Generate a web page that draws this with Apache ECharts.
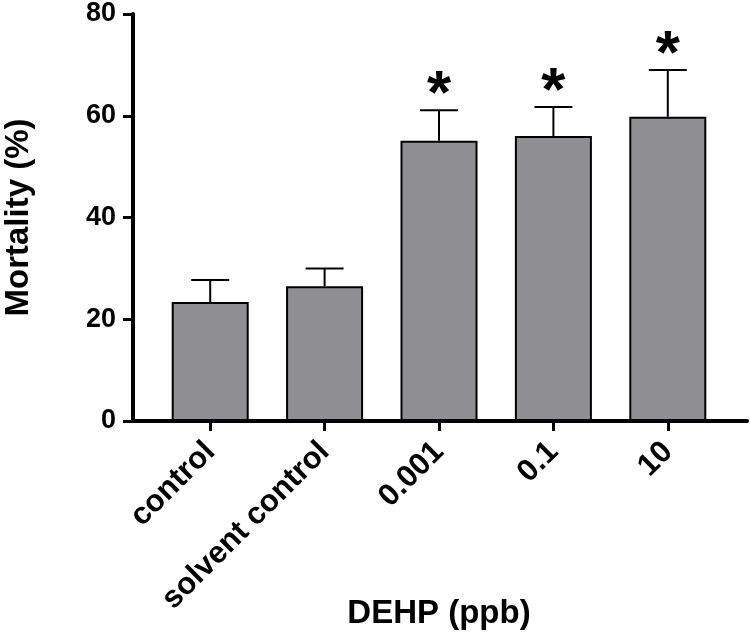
<!DOCTYPE html>
<html>
<head>
<meta charset="utf-8">
<script src="https://cdn.jsdelivr.net/npm/echarts@6/dist/echarts.min.js"></script>
<style>
  html, body { margin: 0; padding: 0; background: #fff; }
  #chart { width: 750px; height: 636px; }
</style>
</head>
<body>
<div id="chart"></div>
<script>
// groups on the x axis
const categories = ['control', 'solvent control', '0.001', '0.1', '10'];
// mean mortality (%) and top of error bar
const mortality = [23.4, 26.5, 55.1, 56.0, 59.8];
const errorTop = [27.7, 30.0, 61.1, 61.7, 69.0];
// significance marks
const stars = ['', '', '*', '*', '*'];
const yTicks = [0, 20, 40, 60, 80];

const font = '"Liberation Sans", Arial, sans-serif';
const chart = echarts.init(document.getElementById('chart'));

const errorData = categories.map((c, i) => [i, mortality[i], errorTop[i], stars[i]]);

chart.setOption({
  backgroundColor: '#fff',
  animation: false,
  grid: [
    { left: 153, right: 25, top: 14, bottom: 215, outerBoundsMode: 'none', containLabel: false },
    { left: 133, right: 3, top: 14, bottom: 215, outerBoundsMode: 'none', containLabel: false }
  ],
  xAxis: [
    {
      type: 'category',
      gridIndex: 0,
      data: categories,
      axisLine: { show: false },
      axisTick: { show: true, alignWithLabel: true, length: 10, lineStyle: { color: '#000', width: 3 } },
      axisLabel: {
        rotate: 45,
        margin: 26,
        interval: 0,
        color: '#000',
        fontFamily: font,
        fontWeight: 'bold',
        fontSize: 31
      },
      name: 'DEHP (ppb)',
      nameLocation: 'middle',
      nameMoveOverlap: false,
      nameGap: 176,
      nameTextStyle: { color: '#000', fontFamily: font, fontWeight: 'bold', fontSize: 33 }
    },
    {
      type: 'value',
      gridIndex: 1,
      min: 0,
      max: 1,
      axisLine: { show: true, lineStyle: { color: '#000', width: 4 } },
      axisTick: { show: false },
      axisLabel: { show: false },
      splitLine: { show: false }
    }
  ],
  yAxis: [
    {
      type: 'value',
      gridIndex: 0,
      min: yTicks[0],
      max: yTicks[yTicks.length - 1],
      interval: yTicks[1] - yTicks[0],
      offset: 20,
      axisLine: { show: true, lineStyle: { color: '#000', width: 4 } },
      axisTick: { show: true, length: 10, lineStyle: { color: '#000', width: 3 } },
      axisLabel: {
        margin: 17,
        color: '#000',
        fontFamily: font,
        fontWeight: 'bold',
        fontSize: 27
      },
      splitLine: { show: false },
      name: 'Mortality (%)',
      nameLocation: 'middle',
      nameMoveOverlap: false,
      nameGap: 98,
      nameTextStyle: { color: '#000', fontFamily: font, fontWeight: 'bold', fontSize: 33 }
    },
    {
      type: 'value',
      gridIndex: 1,
      show: false
    }
  ],
  series: [
    {
      type: 'bar',
      xAxisIndex: 0,
      yAxisIndex: 0,
      data: mortality,
      barWidth: 77,
      itemStyle: { color: '#8f8e93', borderColor: '#000', borderWidth: 2 }
    },
    {
      type: 'custom',
      xAxisIndex: 0,
      yAxisIndex: 0,
      data: errorData,
      z: 3,
      renderItem: function (params, api) {
        const base = api.coord([api.value(0), api.value(1)]);
        const top = api.coord([api.value(0), api.value(2)]);
        const half = 19;
        const children = [
          { type: 'line', shape: { x1: base[0], y1: base[1], x2: top[0], y2: top[1] }, style: { stroke: '#000', lineWidth: 2 } },
          { type: 'line', shape: { x1: top[0] - half, y1: top[1], x2: top[0] + half, y2: top[1] }, style: { stroke: '#000', lineWidth: 2 } }
        ];
        const mark = stars[params.dataIndex];
        if (mark) {
          children.push({
            type: 'text',
            style: {
              text: mark,
              x: top[0],
              y: top[1] + 17,
              align: 'center',
              verticalAlign: 'bottom',
              fill: '#000',
              font: 'bold 62px ' + font
            }
          });
        }
        return { type: 'group', children: children };
      }
    }
  ]
});

window.addEventListener('resize', () => {
  chart.resize();
});
</script>
</body>
</html>
